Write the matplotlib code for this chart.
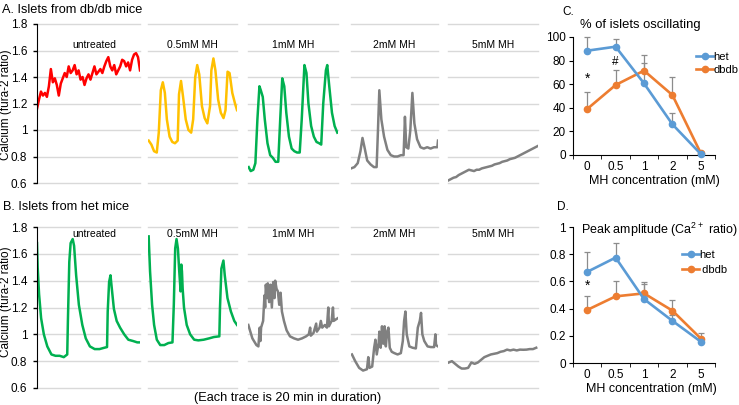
import numpy as np
import matplotlib
matplotlib.use('Agg')
import matplotlib.pyplot as plt

plt.rcParams['font.family'] = ['Liberation Sans', 'DejaVu Sans']
plt.rcParams['mathtext.fontset'] = 'custom'
plt.rcParams['mathtext.rm'] = 'Liberation Sans'
plt.rcParams['mathtext.default'] = 'regular'

#%% Traces (time in min, fura-2 ratio)

# A. db/db islets
a_untreated_v = [1.16, 1.23, 1.29, 1.26, 1.28, 1.25, 1.33, 1.46, 1.36, 1.39, 1.34, 1.26, 1.35, 1.39,
                 1.43, 1.40, 1.48, 1.43, 1.45, 1.49, 1.42, 1.45, 1.38, 1.40, 1.34, 1.39, 1.42, 1.38,
                 1.43, 1.48, 1.42, 1.44, 1.46, 1.43, 1.48, 1.52, 1.55, 1.48, 1.45, 1.49, 1.42, 1.45,
                 1.48, 1.53, 1.52, 1.48, 1.51, 1.45, 1.53, 1.57, 1.58, 1.55, 1.45]

a_05_t = [0.15, 0.76, 1.36, 1.97, 2.42, 2.88, 3.33, 3.79, 4.24, 4.85, 5.45, 6.06, 6.67, 6.97, 7.42,
          7.88, 8.48, 9.09, 9.70, 10.15, 10.61, 11.06, 11.52, 12.12, 12.73, 13.33, 13.94, 14.24,
          14.70, 15.15, 15.76, 16.36, 16.97, 17.42, 17.88, 18.33, 18.94, 19.55, 20.0]
a_05_v = [0.92, 0.89, 0.84, 0.83, 0.98, 1.30, 1.36, 1.28, 1.08, 0.95, 0.91, 0.90, 0.92, 1.27, 1.37,
          1.25, 1.08, 1.00, 0.98, 1.08, 1.40, 1.49, 1.42, 1.18, 1.09, 1.05, 1.18, 1.45, 1.54, 1.45,
          1.23, 1.13, 1.09, 1.15, 1.44, 1.43, 1.28, 1.20, 1.15]

a_1_t = [0.15, 0.60, 1.19, 1.64, 2.09, 2.54, 2.84, 3.28, 3.73, 4.33, 4.93, 5.52, 6.12, 6.72, 7.16,
         7.61, 8.06, 8.51, 9.10, 9.70, 10.30, 10.90, 11.49, 11.94, 12.54, 12.99, 13.43, 14.03,
         14.63, 15.22, 15.82, 16.27, 16.72, 17.31, 17.61, 18.06, 18.66, 19.25, 19.85]
a_1_v = [0.72, 0.69, 0.70, 0.75, 1.08, 1.33, 1.30, 1.25, 1.08, 0.90, 0.81, 0.79, 0.76, 0.76, 1.08,
         1.39, 1.33, 1.13, 0.95, 0.86, 0.84, 0.83, 0.83, 1.08, 1.49, 1.43, 1.20, 1.03, 0.95, 0.91,
         0.90, 0.89, 1.20, 1.45, 1.49, 1.33, 1.13, 1.03, 0.98]

a_2_t = [0.0, 0.78, 1.55, 2.17, 2.64, 3.10, 3.72, 4.50, 5.27, 5.89, 6.20, 6.51, 6.98, 7.60, 8.37,
         9.15, 9.92, 10.70, 11.47, 12.09, 12.40, 12.71, 13.18, 13.64, 14.11, 14.57, 15.19, 15.97,
         16.74, 17.52, 18.29, 19.07, 19.84, 20.0]
a_2_v = [0.71, 0.72, 0.75, 0.84, 0.94, 0.87, 0.77, 0.74, 0.72, 0.72, 1.00, 1.30, 1.08, 0.95, 0.85,
         0.81, 0.80, 0.80, 0.81, 0.81, 1.10, 0.87, 0.86, 1.00, 1.28, 1.05, 0.93, 0.87, 0.86, 0.87,
         0.86, 0.87, 0.87, 0.92]

a_5_v = [0.62, 0.63, 0.64, 0.645, 0.66, 0.67, 0.68, 0.69, 0.70, 0.695, 0.69, 0.70, 0.70, 0.71,
         0.715, 0.72, 0.725, 0.73, 0.74, 0.745, 0.75, 0.76, 0.765, 0.77, 0.78, 0.785, 0.79, 0.80,
         0.81, 0.82, 0.83, 0.84, 0.85, 0.86, 0.87, 0.88]

# B. het islets
b_untreated_t = [0.0, 0.13, 0.4, 0.8, 1.33, 2.0, 2.8, 3.6, 4.4, 5.2, 5.87, 6.0, 6.27, 6.53, 6.93,
                 7.2, 7.6, 8.13, 8.8, 9.47, 10.27, 11.2, 12.13, 13.07, 13.6, 13.73, 14.0, 14.27,
                 14.53, 14.93, 15.47, 16.13, 16.93, 17.73, 18.67, 19.47, 20.0]
b_untreated_v = [1.68, 1.50, 1.30, 1.12, 1.00, 0.91, 0.85, 0.84, 0.84, 0.83, 0.85, 1.10, 1.54, 1.68,
                 1.71, 1.66, 1.44, 1.22, 1.07, 0.97, 0.91, 0.89, 0.89, 0.90, 0.905, 1.17, 1.39,
                 1.44, 1.34, 1.19, 1.10, 1.05, 1.00, 0.96, 0.95, 0.94, 0.94]

b_05_t = [0.15, 0.46, 0.92, 1.37, 1.98, 2.75, 3.66, 4.58, 5.50, 5.80, 6.11, 6.41, 6.72, 7.02, 7.33,
          7.48, 7.63, 7.79, 8.09, 8.70, 9.47, 10.38, 11.30, 12.52, 13.74, 14.81, 16.03, 16.18,
          16.49, 16.95, 17.25, 17.86, 18.63, 19.39, 20.0]
b_05_v = [1.73, 1.47, 1.22, 1.07, 0.96, 0.92, 0.92, 0.935, 0.94, 1.22, 1.64, 1.71, 1.64, 1.47, 1.32,
          1.52, 1.47, 1.34, 1.20, 1.07, 1.00, 0.96, 0.955, 0.96, 0.97, 0.98, 0.985, 1.20, 1.49,
          1.55, 1.44, 1.27, 1.17, 1.10, 1.07]

b_1_t = [0.07, 0.97, 1.87, 2.31, 2.61, 2.76, 2.91, 3.36, 3.66, 3.81, 3.96, 4.25, 4.40, 4.70, 5.0,
         5.30, 5.60, 5.90, 6.04, 6.34, 6.64, 6.94, 7.24, 7.54, 7.99, 8.58, 9.33, 10.22, 11.12,
         12.01, 12.91, 13.51, 13.81, 13.96, 14.55, 15.15, 15.30, 15.90, 16.19, 16.49, 17.09,
         17.54, 17.84, 17.99, 18.58, 18.88, 19.03, 19.48, 19.93]
b_1_v = [1.07, 0.97, 0.92, 0.91, 1.05, 0.95, 1.05, 1.10, 1.29, 1.20, 1.37, 1.27, 1.38, 1.24, 1.37,
         1.20, 1.39, 1.27, 1.40, 1.34, 1.32, 1.22, 1.31, 1.17, 1.10, 1.03, 0.985, 0.97, 0.96, 0.97,
         0.985, 1.0, 1.05, 0.99, 1.01, 1.08, 1.02, 1.05, 1.10, 1.05, 1.07, 1.05, 1.20, 1.06, 1.10,
         1.20, 1.10, 1.11, 1.12]

b_2_t = [0.22, 0.97, 1.87, 2.77, 3.67, 3.97, 4.27, 4.87, 5.32, 5.62, 5.92, 6.37, 6.52, 6.82, 7.12,
         7.42, 7.72, 8.01, 8.31, 8.61, 8.91, 9.36, 9.96, 10.71, 11.46, 11.91, 12.21, 12.51, 12.81,
         13.41, 14.16, 14.91, 15.36, 15.81, 16.10, 16.40, 16.85, 17.60, 18.35, 19.10, 19.40,
         19.55, 20.0]
b_2_v = [0.85, 0.80, 0.75, 0.73, 0.74, 0.83, 0.75, 0.76, 0.90, 0.96, 0.85, 0.94, 1.02, 0.90, 1.06,
         0.93, 1.06, 0.91, 1.02, 1.05, 0.90, 0.87, 0.86, 0.85, 0.86, 0.95, 1.10, 1.17, 1.00, 0.91,
         0.90, 0.895, 1.05, 1.10, 1.16, 1.00, 0.95, 0.91, 0.905, 0.905, 1.00, 0.92, 0.91]

b_5_v = [0.79, 0.80, 0.78, 0.76, 0.745, 0.745, 0.75, 0.79, 0.78, 0.79, 0.81, 0.83, 0.84, 0.85,
         0.855, 0.86, 0.87, 0.875, 0.886, 0.88, 0.886, 0.88, 0.886, 0.885, 0.886, 0.89, 0.89, 0.90]

trace_titles = ['untreated', '0.5mM MH', '1mM MH', '2mM MH', '5mM MH']

#%% Summary data (C and D)

conc_labels = ['0', '0.5', '1', '2', '5']
het_pct = [88.4, 91.8, 60.7, 26.0, 0.8]
het_pct_err = [11.5, 6.5, 17.0, 10.0, 0.0]
dbdb_pct = [39.0, 59.3, 71.5, 50.8, 1.5]
dbdb_pct_err = [14.0, 13.0, 13.0, 15.5, 0.0]

het_amp = [0.67, 0.775, 0.47, 0.31, 0.157]
het_amp_err = [0.146, 0.11, 0.11, 0.04, 0.03]
dbdb_amp = [0.39, 0.49, 0.512, 0.385, 0.18]
dbdb_amp_err = [0.10, 0.11, 0.08, 0.075, 0.038]

RED = '#FF0000'
YELLOW = '#FFC000'
GREEN = '#00B050'
GRAY = '#808080'
BLUE = '#5B9BD5'
ORANGE = '#ED7D31'

W, H = 739, 405
fig = plt.figure(figsize=(W / 100, H / 100), dpi=100)


def rect(x0, y0, x1, y1):
    # pixel box (from top-left) -> figure fraction
    return [x0 / W, 1 - y1 / H, (x1 - x0) / W, (y1 - y0) / H]


def trace_panel(box, t, v, color, title, first, title_y):
    ax = fig.add_axes(rect(*box))
    ax.plot(t, v, color=color, lw=1.8, solid_joinstyle='round')
    ax.set_xlim(0, 20)
    ax.set_ylim(0.6, 1.8)
    ticks = np.round(np.arange(0.6, 1.81, 0.2), 1)
    ax.set_yticks(ticks)
    ax.yaxis.grid(True, color='#D9D9D9', lw=1)
    ax.set_axisbelow(True)
    ax.set_xticks([])
    for s in ['top', 'right', 'bottom']:
        ax.spines[s].set_visible(False)
    if first:
        ax.set_yticklabels(['0.6', '0.8', '1', '1.2', '1.4', '1.6', '1.8'])
        ax.tick_params(axis='y', direction='out', length=3, width=1, labelsize=8.5, pad=4)
        ax.spines['left'].set_color('black')
    else:
        ax.spines['left'].set_visible(False)
        ax.tick_params(axis='y', left=False, labelleft=False)
    ax.text(0.5 if not first else 0.56, title_y, title, transform=ax.transAxes,
            ha='center', va='center', fontsize=7.5)
    for line in ax.get_ygridlines():
        line.set_clip_on(False)
    return ax


xs = [(37, 140), (148, 237), (248, 338), (351, 438), (448, 538)]

a_traces = [(np.linspace(0, 20, len(a_untreated_v)), a_untreated_v, RED),
            (a_05_t, a_05_v, YELLOW),
            (a_1_t, a_1_v, GREEN),
            (a_2_t, a_2_v, GRAY),
            (np.linspace(0.1, 20, len(a_5_v)), a_5_v, GRAY)]
b_traces = [(b_untreated_t, b_untreated_v, GREEN),
            (b_05_t, b_05_v, GREEN),
            (b_1_t, b_1_v, GRAY),
            (b_2_t, b_2_v, GRAY),
            (np.linspace(0.15, 19.6, len(b_5_v)), b_5_v, GRAY)]

for i, (t, v, c) in enumerate(a_traces):
    trace_panel((xs[i][0], 24, xs[i][1], 183), t, v, c, trace_titles[i], i == 0, 0.87)
for i, (t, v, c) in enumerate(b_traces):
    trace_panel((xs[i][0], 227, xs[i][1], 388), t, v, c, trace_titles[i], i == 0, 0.955)

fig.text(2 / W, 1 - 10 / H, 'A. Islets from db/db mice', fontsize=9.2, va='center')
fig.text(3 / W, 1 - 207 / H, 'B. Islets from het mice', fontsize=9.2, va='center')
fig.text(6 / W, 1 - 105 / H, 'Calcium (fura-2 ratio)', fontsize=8.5, rotation=90,
         ha='center', va='center')
fig.text(6 / W, 1 - 302 / H, 'Calcium (fura-2 ratio)', fontsize=8.5, rotation=90,
         ha='center', va='center')
fig.text(288 / W, 1 - 398 / H, '(Each trace is 20 min in duration)', fontsize=9.2,
         ha='center', va='center')


def summary_panel(box, het, het_err, dbdb, dbdb_err, ymax, yticks, ylabels):
    ax = fig.add_axes(rect(*box))
    x = np.arange(len(conc_labels))
    zeros = np.zeros(len(x))
    ax.errorbar(x, het, yerr=[zeros, het_err], fmt='none', ecolor='#8C8C8C',
                elinewidth=0.9, capsize=2.5, capthick=0.9, zorder=1)
    ax.errorbar(x, dbdb, yerr=[zeros, dbdb_err], fmt='none', ecolor='#8C8C8C',
                elinewidth=0.9, capsize=2.5, capthick=0.9, zorder=1)
    ax.plot(x, het, '-o', color=BLUE, lw=1.9, ms=4.5, label='het', zorder=3)
    ax.plot(x, dbdb, '-o', color=ORANGE, lw=1.9, ms=4.5, label='dbdb', zorder=2)
    ax.set_xlim(-0.5, len(x) - 0.5)
    ax.set_ylim(0, ymax)
    ax.set_xticks(x)
    ax.set_xticklabels(conc_labels)
    ax.set_xticks(np.arange(-0.5, len(x)), minor=True)
    ax.tick_params(axis='x', which='major', length=0, labelsize=8.5, pad=4)
    ax.tick_params(axis='x', which='minor', length=3, direction='out')
    ax.set_yticks(yticks)
    ax.set_yticklabels(ylabels)
    ax.tick_params(axis='y', direction='out', length=3, labelsize=8.5, pad=2)
    for s in ['top', 'right']:
        ax.spines[s].set_visible(False)
    for s in ['left', 'bottom']:
        ax.spines[s].set_color('black')
    for a in ax.get_children():
        if hasattr(a, 'set_clip_on'):
            a.set_clip_on(False)
    ax.set_xlabel('MH concentration (mM)', fontsize=9, labelpad=1)
    return ax


axc = summary_panel((573, 37, 715, 155), het_pct, het_pct_err, dbdb_pct, dbdb_pct_err,
                    100, [0, 20, 40, 60, 80, 100], ['0', '20', '40', '60', '80', '100'])
axc.xaxis.set_label_coords(0.57, -0.17)
axc.legend(loc='upper left', bbox_to_anchor=(0.83, 0.92), frameon=False, borderpad=0,
           handlelength=1.5, handletextpad=0.05, labelspacing=0.3, fontsize=8)
axc.text(0, 65, '*', ha='center', va='center', fontsize=10)
axc.text(1, 79, '#', ha='center', va='center', fontsize=8.5)
fig.text(562 / W, 1 - 12 / H, 'C.', fontsize=8.5, va='center')
fig.text(640 / W, 1 - 25 / H, '% of islets oscillating', fontsize=9.4, ha='center', va='center')

axd = summary_panel((573, 227, 715, 363), het_amp, het_amp_err, dbdb_amp, dbdb_amp_err,
                    1, [0, 0.2, 0.4, 0.6, 0.8, 1.0], ['0', '0.2', '0.4', '0.6', '0.8', '1'])
axd.xaxis.set_label_coords(0.55, -0.15)
axd.legend(labels=['het', ' dbdb'], loc='upper left', bbox_to_anchor=(0.73, 0.875),
           frameon=False, borderpad=0, handlelength=1.5, handletextpad=0.05,
           labelspacing=0.45, fontsize=8)
axd.text(0, 0.57, '*', ha='center', va='center', fontsize=10)
fig.text(557 / W, 1 - 207 / H, 'D.', fontsize=8.5, va='center')
fig.text(659 / W, 1 - 230 / H, 'Peak amplitude (Ca$^{2+}$ ratio)', fontsize=9,
         ha='center', va='center')

fig.savefig('out.png', dpi=100)
